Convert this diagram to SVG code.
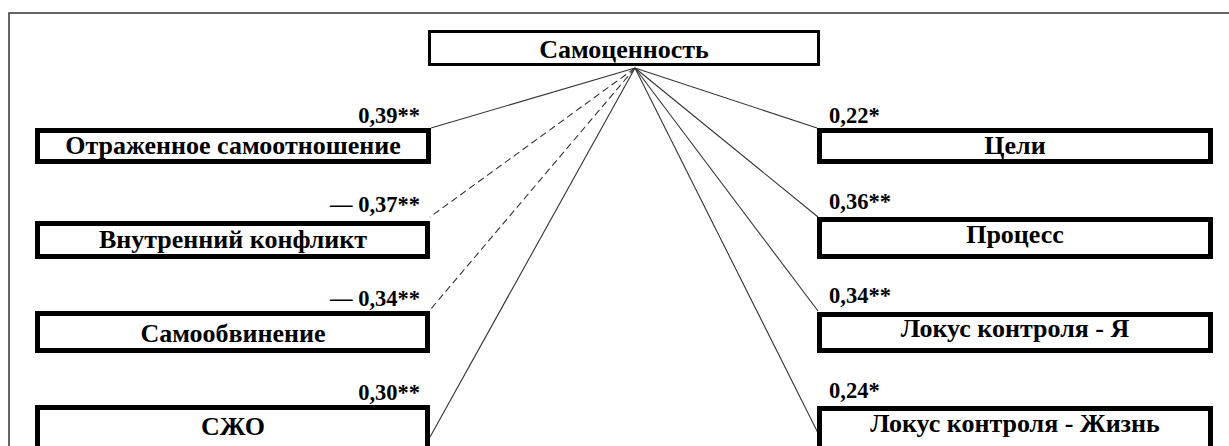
<svg xmlns="http://www.w3.org/2000/svg" width="1229" height="446" viewBox="0 0 1229 446">
<style>
.bg{fill:#fff}
.frame{fill:none;stroke:#333;stroke-width:1.5}
.box{fill:#fff;stroke:#000;stroke-width:5}
.top{fill:#fff;stroke:#000;stroke-width:3}
.lbl{font-family:"Liberation Serif","Times New Roman",serif;font-weight:bold;font-size:26px;fill:#000;text-anchor:middle}
.num{font-family:"Liberation Serif","Times New Roman",serif;font-weight:bold;font-size:22.5px;fill:#000}
.r{text-anchor:end}
.ln{fill:none;stroke:#333;stroke-width:1.1}
.dash{stroke-dasharray:7 4}
</style>
<rect class="bg" x="0" y="0" width="1229" height="446"/>
<path class="frame" d="M9,446 V13 H1229"/>
<g id="connectors">
<line class="ln" x1="635" y1="68" x2="431" y2="128"/>
<line class="ln dash" x1="635" y1="68" x2="430" y2="217"/>
<line class="ln dash" x1="635" y1="68" x2="430" y2="310"/>
<line class="ln" x1="635" y1="68" x2="430" y2="437"/>
<line class="ln" x1="635" y1="68" x2="817" y2="128"/>
<line class="ln" x1="635" y1="68" x2="818" y2="217"/>
<line class="ln" x1="635" y1="68" x2="818" y2="311"/>
<line class="ln" x1="635" y1="68" x2="818" y2="433"/>
</g>
<g id="n-samocennost">
<rect class="top" x="429.5" y="31.5" width="389" height="33"/>
<text class="lbl" x="624" y="58">Самоценность</text>
</g>
<g id="n-otrazh">
<rect class="box" x="37.5" y="130.5" width="391" height="31"/>
<text class="lbl" x="233" y="154">Отраженное самоотношение</text>
<text class="num r" x="420" y="123">0,39**</text>
</g>
<g id="n-vnutr">
<rect class="box" x="37.5" y="223.5" width="390" height="33"/>
<text class="lbl" x="233" y="248">Внутренний конфликт</text>
<text class="num r" x="420" y="212">— 0,37**</text>
</g>
<g id="n-samoobv">
<rect class="box" x="37.5" y="313.5" width="390" height="37"/>
<text class="lbl" x="233" y="342">Самообвинение</text>
<text class="num r" x="420" y="306">— 0,34**</text>
</g>
<g id="n-szho">
<rect class="box" x="37.5" y="407.5" width="390" height="42"/>
<text class="lbl" x="233" y="435">СЖО</text>
<text class="num r" x="420" y="400">0,30**</text>
</g>
<g id="n-celi">
<rect class="box" x="819.5" y="130.5" width="391" height="31"/>
<text class="lbl" x="1015" y="154">Цели</text>
<text class="num" x="829" y="123">0,22*</text>
</g>
<g id="n-process">
<rect class="box" x="819.5" y="219.5" width="391" height="37"/>
<text class="lbl" x="1015" y="243">Процесс</text>
<text class="num" x="829" y="209">0,36**</text>
</g>
<g id="n-lokus-ya">
<rect class="box" x="819.5" y="314.5" width="391" height="36"/>
<text class="lbl" x="1015" y="337">Локус контроля - Я</text>
<text class="num" x="829" y="303">0,34**</text>
</g>
<g id="n-lokus-zhizn">
<rect class="box" x="819.5" y="408.5" width="391" height="42"/>
<text class="lbl" x="1015" y="432">Локус контроля - Жизнь</text>
<text class="num" x="829" y="398">0,24*</text>
</g>
</svg>
